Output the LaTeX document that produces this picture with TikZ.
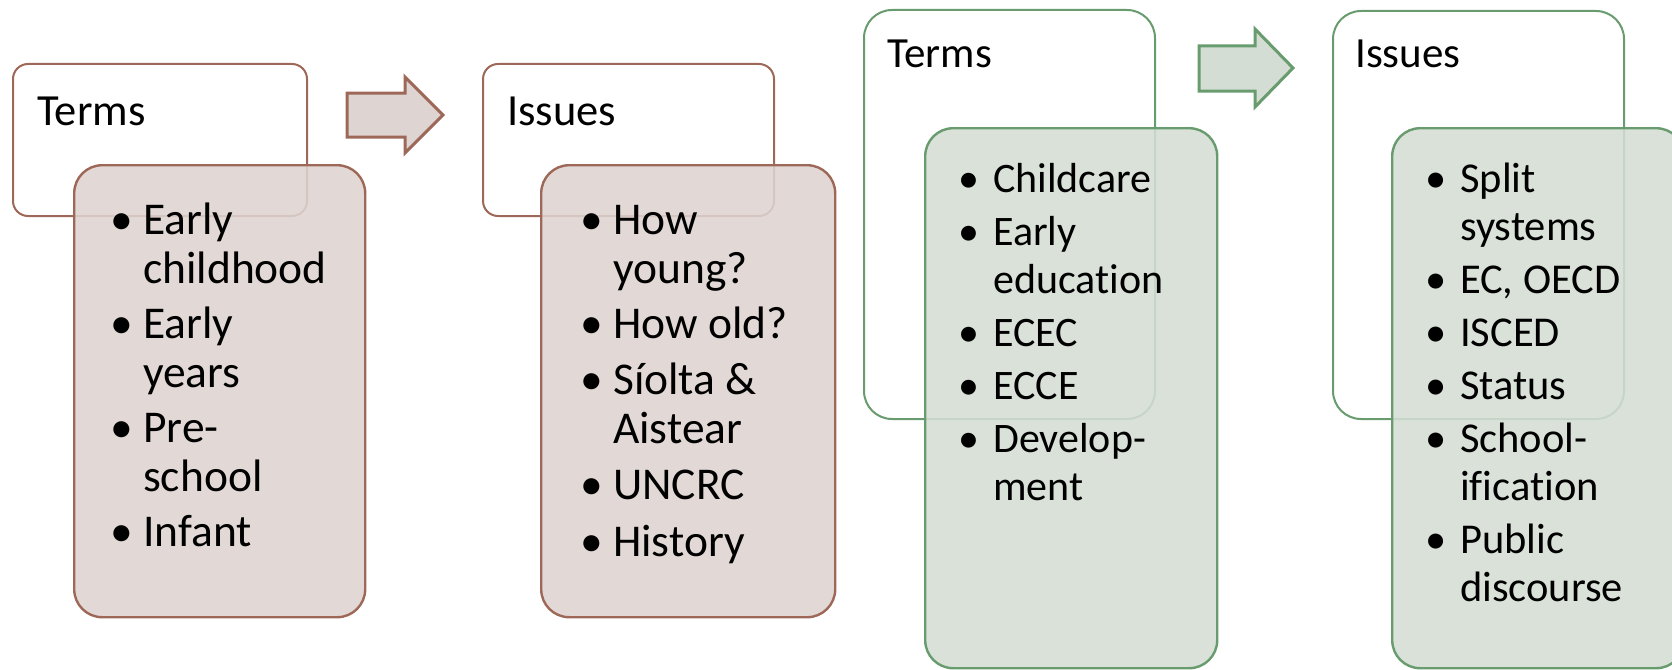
\documentclass[tikz,border=0pt]{standalone}
\usepackage{fontspec}
\setmainfont{Carlito}[Ligatures=NoCommon]
\definecolor{brS}{RGB}{158,104,88}
\definecolor{brF}{RGB}{222,212,209}
\definecolor{grS}{RGB}{104,156,110}
\definecolor{grF}{RGB}{212,221,212}
\newcommand{\bl}{\llap{\textbullet\hspace{10.5pt}}}
\newcommand{\gbl}{\llap{\textbullet\hspace{14pt}}}
\tikzset{
  hdrbox/.style={draw, line width=2pt, fill=white, anchor=north west, inner sep=0pt},
  bdybox/.style={draw, line width=2.4pt, fill opacity=0.88, anchor=north west, inner sep=0pt, rounded corners=28pt},
  brownc/.style={draw=brS},
  greenc/.style={draw=grS},
  blockarrow/.style={line width=3pt, line join=miter},
  hdrtxt/.style={anchor=base west, inner sep=0pt},
  lst/.style={anchor=base west, inner sep=0pt},
}
\begin{document}
\begin{tikzpicture}[x=1pt,y=-1pt]
\useasboundingbox (0,0) rectangle (1672,669);
\clip (0,0) rectangle (1672,669);
% ---- brown group ----
\node[hdrbox, brownc, rounded corners=15pt, minimum width=294pt, minimum height=152pt] (bth) at (12,63) {};
\node[hdrtxt, font=\fontsize{44.5}{49}\selectfont] (btt) at (37,125) {Terms};
\node[bdybox, brownc, fill=brF, minimum width=291pt, minimum height=452pt] (btb) at (73,164) {};
\node[lst, font=\fontsize{45.5}{49}\selectfont] (btl) at (143,234) {\begin{tabular}[t]{@{}l@{}}
\bl Early\\ childhood\\[6pt]
\bl Early\\ years\\[6pt]
\bl Pre-\\ school\\[6pt]
\bl Infant
\end{tabular}};
\draw[blockarrow, draw=brS, fill=brF] (347,93) -- (405,93) -- (405,77) -- (443,115) -- (405,153) -- (405,137) -- (347,137) -- cycle;
\node[hdrbox, brownc, rounded corners=15pt, minimum width=291pt, minimum height=152pt] (bih) at (482,63) {};
\node[hdrtxt, font=\fontsize{44.5}{49}\selectfont] (bit) at (507,125) {Issues};
\node[bdybox, brownc, fill=brF, minimum width=294pt, minimum height=452pt] (bib) at (540,164) {};
\node[lst, font=\fontsize{45.5}{49}\selectfont] (bil) at (613,234) {\begin{tabular}[t]{@{}l@{}}
\bl How\\ young?\\[6pt]
\bl How old?\\[7pt]
\bl Síolta \&\\ Aistear\\[7pt]
\bl UNCRC\\[8pt]
\bl History
\end{tabular}};
% ---- green group ----
\node[hdrbox, greenc, rounded corners=28pt, minimum width=291pt, minimum height=409pt] (gth) at (863,9) {};
\node[hdrtxt, font=\fontsize{43}{48}\selectfont] (gtt) at (887,67) {Terms};
\node[bdybox, greenc, fill=grF, minimum width=292pt, minimum height=540pt] (gtb) at (924,127) {};
\node[lst, font=\fontsize{42}{48}\selectfont] (gtl) at (993,192) {\begin{tabular}[t]{@{}l@{}}
\gbl Childcare\\[5pt]
\gbl Early\\ education\\[5pt]
\gbl ECEC\\[5pt]
\gbl ECCE\\[5pt]
\gbl Develop-\\ ment
\end{tabular}};
\draw[blockarrow, draw=grS, fill=grF] (1199,46) -- (1255,46) -- (1255,29) -- (1293,68) -- (1255,107) -- (1255,91) -- (1199,91) -- cycle;
\node[hdrbox, greenc, rounded corners=28pt, minimum width=291pt, minimum height=408pt] (gih) at (1332,10) {};
\node[hdrtxt, font=\fontsize{43}{48}\selectfont] (git) at (1355,67) {Issues};
\node[bdybox, greenc, fill=grF, minimum width=292pt, minimum height=540pt] (gib) at (1391,127) {};
\node[lst, font=\fontsize{42.5}{48}\selectfont] (gil) at (1460,192) {\begin{tabular}[t]{@{}l@{}}
\gbl Split\\ systems\\[5pt]
\gbl EC, OECD\\[5pt]
\gbl ISCED\\[5pt]
\gbl Status\\[5pt]
\gbl School-\\ ification\\[5pt]
\gbl Public\\ discourse
\end{tabular}};
\end{tikzpicture}
\end{document}
